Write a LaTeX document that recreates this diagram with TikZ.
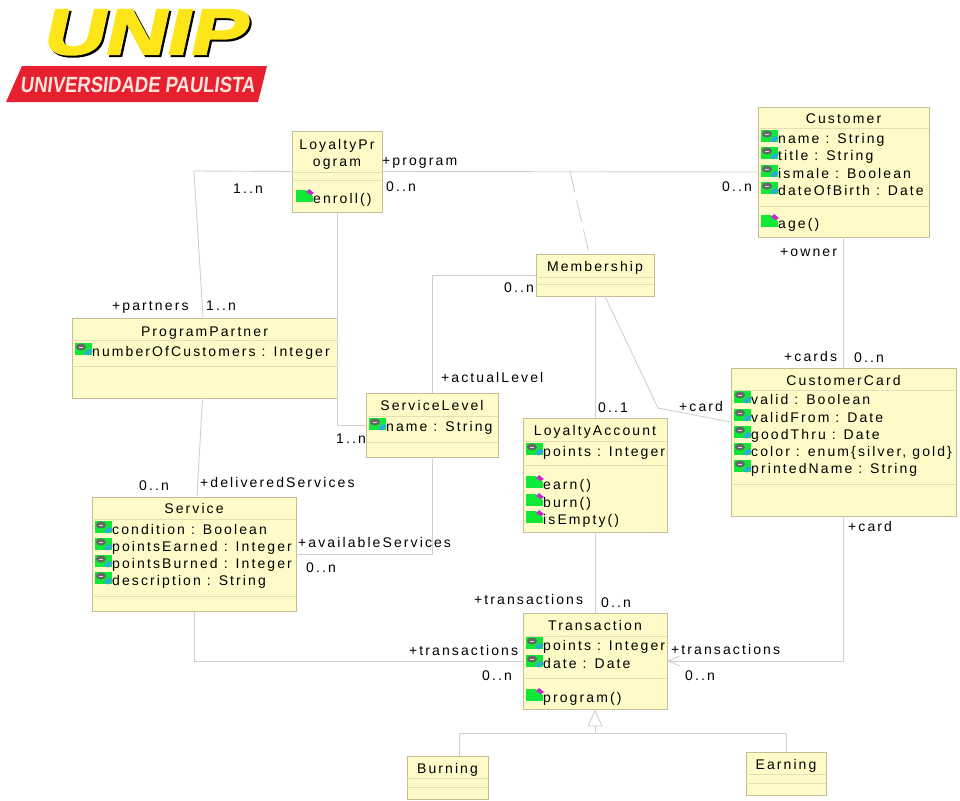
\documentclass[tikz,border=0pt]{standalone}
\usepackage{fontspec}
\setmainfont[LetterSpace=15]{Liberation Sans}
\newfontfamily\unipfont[FakeStretch=1.33,FakeSlant=0.22,FakeBold=3.5]{Liberation Sans Bold}
\newfontfamily\paulistafont[FakeStretch=0.84,FakeSlant=0.12]{Liberation Sans Bold}
\usetikzlibrary{arrows.meta}
\definecolor{boxfill}{HTML}{FFFBC8}
\definecolor{boxedge}{HTML}{C8BC96}
\definecolor{boxsep}{HTML}{E4DFB4}
\definecolor{wire}{HTML}{D6CCD0}
\definecolor{icongreen}{HTML}{10E838}
\definecolor{iconblue}{HTML}{30A8E0}
\definecolor{iconpink}{HTML}{C828C8}
\definecolor{unipred}{HTML}{E6202E}
\definecolor{unipyellow}{HTML}{FCE61A}
\definecolor{unippale}{HTML}{FBE4DC}
\tikzset{
  classbox/.style={draw=boxedge, fill=boxfill, line width=0.9pt, inner sep=0pt},
  sepline/.style={draw=boxsep, line width=0.9pt},
  wireline/.style={draw=wire, line width=0.9pt},
  title/.style={anchor=base, inner sep=0pt, font=\fontsize{14}{16}\selectfont},
  membertext/.style={anchor=base west, inner sep=0pt, font=\fontsize{14}{16}\selectfont},
  endlabel/.style={anchor=base west, inner sep=0pt, font=\fontsize{14}{16}\selectfont},
  attricon/.pic={
    \fill[icongreen] (-17,-13) rectangle (0,-1);
    \fill[gray!80!black] (-11,-9) ellipse (5 and 3.5);
    \fill[gray!30] (-13,-9.5) rectangle (-9,-8);
    \fill[iconblue] (-8,-2.5) -- (-3,-7) -- (1,-5) -- (-4,-0.5) -- cycle;
  },
  opicon/.pic={
    \fill[icongreen] (-17,-13) rectangle (0,-1);
    \fill[white] (-7,-13) -- (0,-13) -- (0,-7) -- cycle;
    \fill[iconpink] (-7,-11) -- (-4,-14) -- (1,-10) -- (-2,-8) -- cycle;
  }
}
\newcommand{\attrrow}[4]{\pic at (#2,#3) {attricon}; \node[membertext] (#1) at (#2,#3) {#4};}
\newcommand{\oprow}[4]{\pic at (#2,#3) {opicon}; \node[membertext] (#1) at (#2,#3) {#4};}
\newcommand{\sepat}[2]{\draw[sepline] (#1.west |- 0,#2) -- (#1.east |- 0,#2);}
\begin{document}
\begin{tikzpicture}[x=1pt, y=-1pt]
\useasboundingbox (0,0) rectangle (960,800);

% logo
\fill[unipred] (22,66) -- (267,66) -- (258,102) -- (6,102) -- cycle;
\node[anchor=base west, inner sep=0pt, text=unippale, font=\paulistafont\fontsize{22}{24}\selectfont] (paulista) at (20,92) {UNIVERSIDADE PAULISTA};
\node[anchor=base west, inner sep=0pt, text=black, font=\unipfont\fontsize{64}{70}\selectfont] (unipshade) at (43,56) {UNIP};
\node[anchor=base west, inner sep=0pt, text=unipyellow, font=\unipfont\fontsize{64}{70}\selectfont] (unip) at (41,54) {UNIP};

% classes
\node[classbox, minimum width=90pt, minimum height=81pt] (program) at (337,171.5) {};
\node[classbox, minimum width=171pt, minimum height=130pt] (customer) at (843.5,172) {};
\node[classbox, minimum width=118pt, minimum height=42pt] (membership) at (595,275) {};
\node[classbox, minimum width=265pt, minimum height=80pt] (partner) at (204.5,358) {};
\node[classbox, minimum width=132pt, minimum height=64pt] (level) at (432,425) {};
\node[classbox, minimum width=144pt, minimum height=114pt] (account) at (595,475) {};
\node[classbox, minimum width=225pt, minimum height=148pt] (card) at (843.5,442) {};
\node[classbox, minimum width=204pt, minimum height=114pt] (service) at (194,554) {};
\node[classbox, minimum width=144pt, minimum height=96pt] (transaction) at (595,661) {};
\node[classbox, minimum width=81pt, minimum height=43pt] (burning) at (447.5,777.5) {};
\node[classbox, minimum width=80pt, minimum height=43pt] (earning) at (786,773.5) {};

\sepat{program}{172} \sepat{program}{180}
\sepat{customer}{128} \sepat{customer}{206}
\sepat{membership}{277} \sepat{membership}{284}
\sepat{partner}{340} \sepat{partner}{366}
\sepat{level}{416} \sepat{level}{442}
\sepat{account}{441} \sepat{account}{465}
\sepat{card}{390} \sepat{card}{484}
\sepat{service}{519} \sepat{service}{596}
\sepat{transaction}{636} \sepat{transaction}{678}
\sepat{burning}{778} \sepat{burning}{787}
\sepat{earning}{774} \sepat{earning}{783}

% class names
\node[title] (programname) at (337,149) {LoyaltyPr};
\node[title] (programname2) at (337,166) {ogram};
\node[title] (customername) at (843.5,123) {Customer};
\node[title] (membershipname) at (595,271) {Membership};
\node[title] (partnername) at (204.5,336) {ProgramPartner};
\node[title] (levelname) at (432,410) {ServiceLevel};
\node[title] (accountname) at (595,435) {LoyaltyAccount};
\node[title] (cardname) at (843.5,385) {CustomerCard};
\node[title] (servicename) at (194,513) {Service};
\node[title] (transactionname) at (595,630) {Transaction};
\node[title] (burningname) at (447.5,773) {Burning};
\node[title] (earningname) at (786,769) {Earning};

% attributes and operations
\oprow{enroll}{313}{203}{enroll()}
\attrrow{custname}{778}{143}{name : String}
\attrrow{custtitle}{778}{160}{title : String}
\attrrow{custmale}{778}{178}{ismale : Boolean}
\attrrow{custbirth}{778}{195}{dateOfBirth : Date}
\oprow{custage}{778}{228}{age()}
\attrrow{partnercount}{92}{356}{numberOfCustomers : Integer}
\attrrow{levelattr}{386}{431}{name : String}
\attrrow{accpoints}{543}{456}{points : Integer}
\oprow{accearn}{543}{489}{earn()}
\oprow{accburn}{543}{507}{burn()}
\oprow{accempty}{543}{524}{isEmpty()}
\attrrow{cardvalid}{751}{404}{valid : Boolean}
\attrrow{cardfrom}{751}{422}{validFrom : Date}
\attrrow{cardthru}{751}{439}{goodThru : Date}
\attrrow{cardcolor}{751}{456}{color : enum\{silver, gold\}}
\attrrow{cardname2}{751}{473}{printedName : String}
\attrrow{servcond}{112}{534}{condition : Boolean}
\attrrow{servearned}{112}{551}{pointsEarned : Integer}
\attrrow{servburned}{112}{568}{pointsBurned : Integer}
\attrrow{servdesc}{112}{585}{description : String}
\attrrow{transpoints}{543}{650}{points : Integer}
\attrrow{transdate}{543}{668}{date : Date}
\oprow{transprog}{543}{702}{program()}

% associations
\coordinate (partnerbend) at (194,171);
\coordinate (cardbend) at (658,408);
\coordinate (assocfoot) at (570,171);
\coordinate (genjoint) at (595,733);
\draw[wireline] (program.east) -- (customer.west);
\draw[wireline] (program.west) -- (partnerbend) -- ([xshift=-1.5pt]partner.north);
\draw[wireline] ([xshift=-2pt]partner.south) -- ([xshift=3pt]service.north);
\draw[wireline] (program.south) |- (level.west);
\draw[wireline] (membership.west) -| (level.north);
\draw[wireline] (level.south) |- (service.east);
\draw[wireline] (membership.south) -- (account.north);
\draw[wireline] (account.south) -- (transaction.north);
\draw[wireline] (customer.south) -- (card.north);
\draw[wireline] (service.south) |- (transaction.west);
\draw[wireline, -{Straight Barb[length=11pt,width=10pt,line width=0.9pt]}] (card.south) |- (transaction.east);
\draw[wireline, dash pattern=on 22pt off 8pt] (assocfoot) -- ([xshift=-6pt]membership.north);
\draw[wireline] ([xshift=10pt]membership.south) -- (cardbend) -- ([yshift=20pt]card.west);
\draw[wireline, -{Triangle[open,length=17pt,width=15pt,fill=white,line width=0.9pt]}] (genjoint) -- (transaction.south);
\draw[wireline] ([xshift=11.5pt]burning.north) |- (genjoint) -| (earning.north);

% role names and multiplicities
\node[endlabel] (l1) at (382,165) {+program};
\node[endlabel] (l2) at (386,191) {0..n};
\node[endlabel] (l3) at (233,193) {1..n};
\node[endlabel] (l4) at (722,191) {0..n};
\node[endlabel] (l5) at (780,256) {+owner};
\node[endlabel] (l6) at (112,310) {+partners};
\node[endlabel] (l7) at (206,310) {1..n};
\node[endlabel] (l8) at (504,292) {0..n};
\node[endlabel] (l9) at (441,382) {+actualLevel};
\node[endlabel] (l10) at (598,412) {0..1};
\node[endlabel] (l11) at (679,411) {+card};
\node[endlabel] (l12) at (784,361) {+cards};
\node[endlabel] (l13) at (854,362) {0..n};
\node[endlabel] (l14) at (336,443) {1..n};
\node[endlabel] (l15) at (139,490) {0..n};
\node[endlabel] (l16) at (200,487) {+deliveredServices};
\node[endlabel] (l17) at (298,547) {+availableServices};
\node[endlabel] (l18) at (306,572) {0..n};
\node[endlabel] (l19) at (848,531) {+card};
\node[endlabel] (l20) at (474,604) {+transactions};
\node[endlabel] (l21) at (601,607) {0..n};
\node[endlabel] (l22) at (409,655) {+transactions};
\node[endlabel] (l23) at (482,680) {0..n};
\node[endlabel] (l24) at (671,654) {+transactions};
\node[endlabel] (l25) at (685,680) {0..n};
\end{tikzpicture}
\end{document}
